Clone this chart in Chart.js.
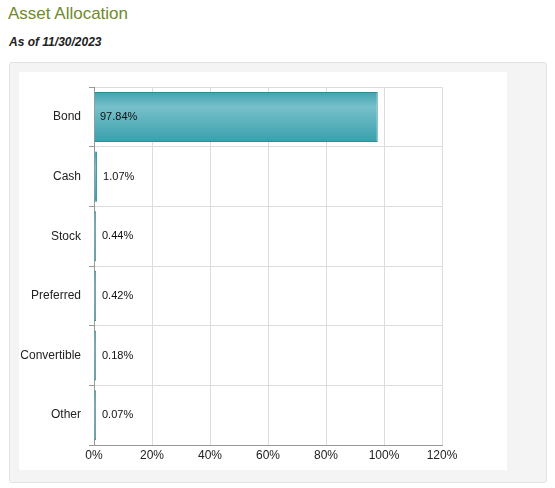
<!DOCTYPE html>
<html><head><meta charset="utf-8">
<script src="https://cdn.jsdelivr.net/npm/chart.js@4"></script>
<style>
body{margin:0;background:#fff;font-family:Arial,"Liberation Sans",sans-serif;}
#t{position:absolute;left:8px;top:4px;font-size:17px;color:#6f8a2a;}
#d{position:absolute;left:9px;top:35px;font-size:12px;font-weight:bold;font-style:italic;color:#222;}
#p{position:absolute;left:9px;top:62px;width:536px;height:419px;background:#f4f4f4;border:1px solid #e2e2e2;border-radius:3px;}
#c{position:absolute;left:19px;top:72px;width:488px;height:398px;background:#fff;}
</style></head><body>
<div id="t">Asset Allocation</div>
<div id="d">As of 11/30/2023</div>
<div id="p"></div>
<div id="c"><canvas id="ch"></canvas></div>
<script>
const categories = ['Bond', 'Cash', 'Stock', 'Preferred', 'Convertible', 'Other'];
const values = [97.84, 1.07, 0.44, 0.42, 0.18, 0.07];
const xTicks = [0, 20, 40, 60, 80, 100, 120];

function barFill(c) {
    const y = c.chart.scales && c.chart.scales.y;
    if (!y || c.dataIndex === undefined) return '#5db4bf';
    const mid = y.getPixelForValue(c.dataIndex);
    const band = (y.bottom - y.top) / categories.length;
    const half = band * 0.42;
    if (!isFinite(mid) || !isFinite(half)) return '#5db4bf';
    const g = c.chart.ctx.createLinearGradient(0, mid - half, 0, mid + half);
    g.addColorStop(0, '#3fa3ae');
    g.addColorStop(0.3, '#76c0ca');
    g.addColorStop(1, '#38a0ac');
    return g;
}

const labelPlugin = {
    id: 'labels',
    afterDatasetsDraw(chart) {
        const ctx = chart.ctx;
        const meta = chart.getDatasetMeta(0);
        ctx.save();
        ctx.font = '11px Arial, "Liberation Sans"';
        ctx.fillStyle = '#111';
        ctx.textBaseline = 'middle';
        meta.data.forEach((b, i) => {
            const x = Math.max(b.x, chart.scales.x.getPixelForValue(0) + 2);
            const px = values[i] > 10 ? chart.scales.x.getPixelForValue(0) + 6 : x + 6;
            ctx.fillText(values[i].toFixed(2) + '%', px, b.y);
        });
        ctx.restore();
    }
};

new Chart(document.getElementById('ch'), {
    type: 'bar',
    data: {
        labels: categories,
        datasets: [{
            data: values,
            backgroundColor: barFill,
            borderColor: '#2f8c95',
            borderWidth: 1,
            categoryPercentage: 0.84,
            barPercentage: 1,
            minBarLength: 2
        }]
    },
    options: {
        indexAxis: 'y',
        responsive: true,
        maintainAspectRatio: false,
        animation: false,
        layout: { padding: { top: -4, right: 65, left: 0, bottom: -2 } },
        plugins: { legend: { display: false }, tooltip: { enabled: false } },
        scales: {
            x: {
                min: 0, max: 120,
                afterBuildTicks: (s) => { s.ticks = xTicks.map(v => ({ value: v })); },
                afterFit: (s) => { s.height = 27; },
                ticks: { color: '#222', font: { size: 12, family: 'Arial' }, callback: v => v + '%' },
                grid: { color: '#dcdcdc', tickLength: 0 },
                border: { color: '#999' }
            },
            y: {
                afterFit: (s) => { s.width = 75; },
                ticks: { color: '#222', font: { size: 12, family: 'Arial' }, padding: 8 },
                grid: { color: '#dcdcdc', tickLength: 5, tickColor: '#999' },
                border: { color: '#999' }
            }
        }
    },
    plugins: [labelPlugin]
});
</script>
</body></html>
